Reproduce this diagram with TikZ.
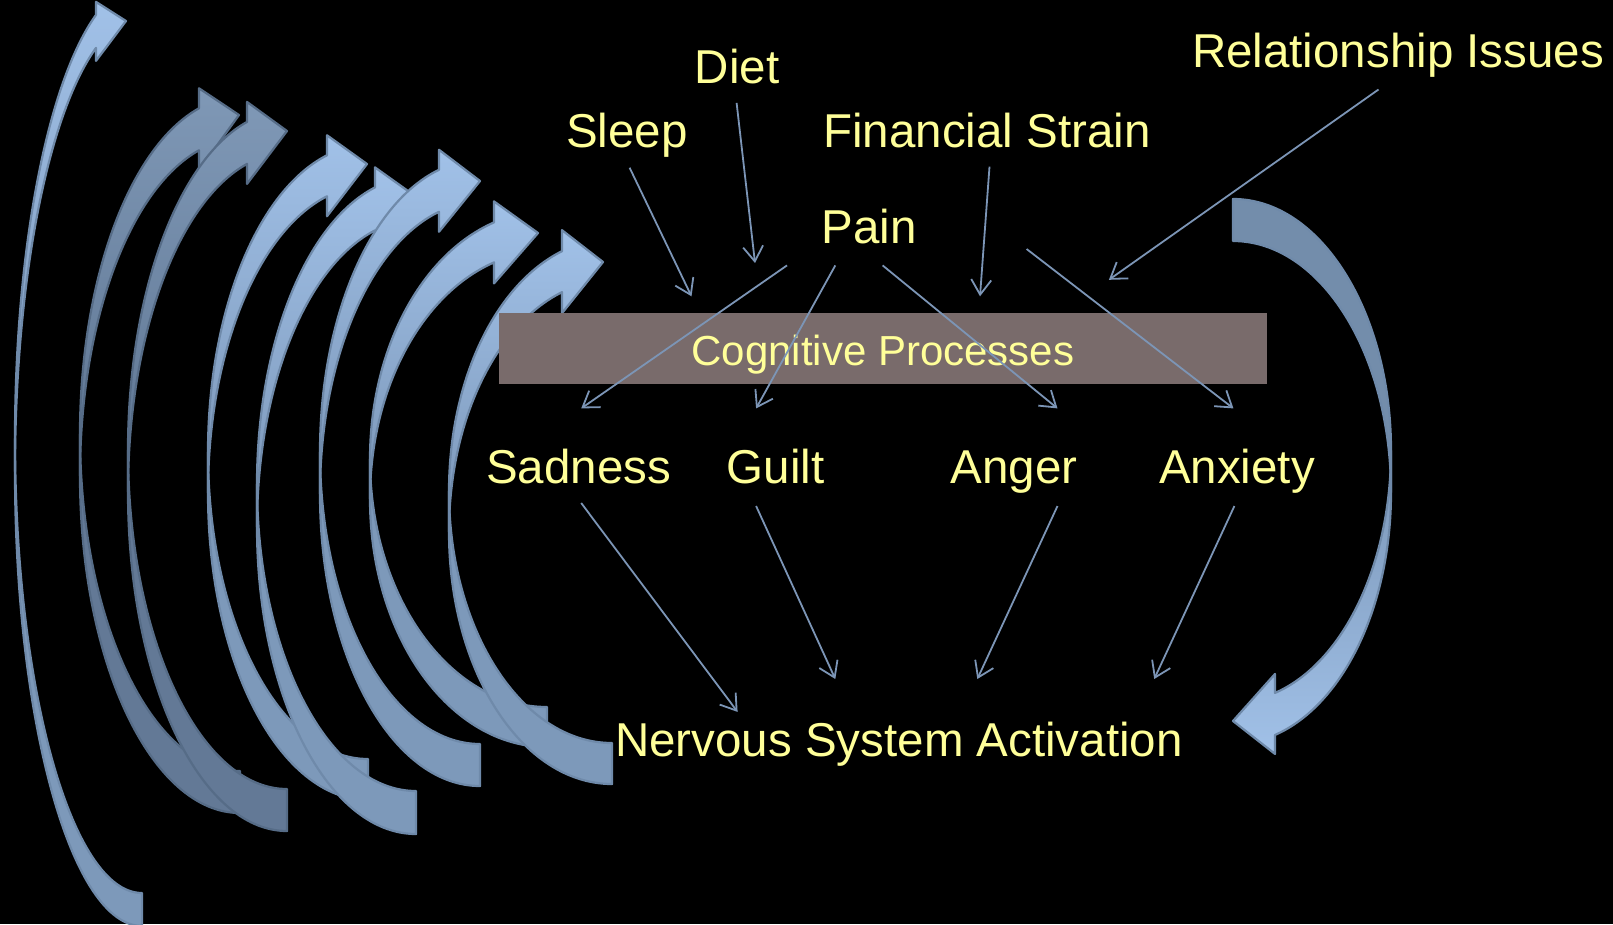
\documentclass[tikz,border=0pt]{standalone}
\usepackage{fontspec}
\setmainfont{Liberation Sans}
\usetikzlibrary{arrows.meta}

\definecolor{labeltext}{HTML}{FFFF99}
\definecolor{linkline}{HTML}{7C95B6}
\definecolor{procbox}{HTML}{796B6B}
\definecolor{lightTop}{HTML}{A1C1E8}
\definecolor{lightBottom}{HTML}{7A95B6}
\definecolor{lightBack}{HTML}{7D99BA}
\definecolor{lightEdge}{HTML}{6F8AAA}
\definecolor{darkTop}{HTML}{7F98B6}
\definecolor{darkBottom}{HTML}{5D7491}
\definecolor{darkBack}{HTML}{637996}
\definecolor{darkEdge}{HTML}{566C87}

\tikzset{
  lbl/.style={text=labeltext, font=\fontsize{47.5}{57}\selectfont, inner sep=0pt, anchor=base},
  boxlbl/.style={text=labeltext, font=\fontsize{42}{50}\selectfont, inner sep=0pt, anchor=base},
  link/.style={draw=linkline, line width=1.8pt, -{Straight Barb[length=15pt,width=20pt]}},
  lightfront/.style={top color=lightTop, bottom color=lightBottom, draw=lightEdge, line width=2.2pt, line join=round},
  lightback/.style={fill=lightBack, draw=lightEdge, line width=2.2pt, line join=round},
  darkfront/.style={top color=darkTop, bottom color=darkBottom, draw=darkEdge, line width=2.2pt, line join=round},
  darkback/.style={fill=darkBack, draw=darkEdge, line width=2.2pt, line join=round},
  rightfront/.style={top color=lightBottom, bottom color=lightTop, draw=lightEdge, line width=2.2pt, line join=round},
  rightback/.style={fill=lightBack!92!black, draw=lightEdge, line width=2.2pt, line join=round},
}

% Curved block arrow bending to the left: tail at the bottom, head at the top.
% #1 style prefix, #2 tail x, #3 centre y of upper ellipse, #4 x radius,
% #5 y radius, #6 band offset, #7 head base x, #8 barb overhang, #9 tip
\newcommand\curvedarrow[9]{%
  \pgfmathsetmacro\arwLx{#2-#4}%
  \pgfmathsetmacro\arwLy{#3+#6}%
  \pgfmathsetmacro\arwAng{360-acos((#7-#2)/#4)}%
  \pgfmathsetmacro\arwOut{#3+#5*sin(\arwAng)}%
  \pgfmathsetmacro\arwIn{\arwOut+#6}%
  \pgfmathsetmacro\arwTail{\arwLy+#5}%
  \path[#1back] (\arwLx,#3)
    arc[start angle=180, end angle=90, x radius=#4, y radius=#5]
    -- (#2,\arwTail)
    arc[start angle=90, end angle=180, x radius=#4, y radius=#5] -- cycle;
  \path[#1front] (\arwLx,\arwLy) -- (\arwLx,#3)
    arc[start angle=180, end angle=\arwAng, x radius=#4, y radius=#5]
    -- (#7,\arwOut-#8) -- (#9) -- (#7,\arwIn+#8) -- (#7,\arwIn)
    arc[start angle=\arwAng, end angle=180, x radius=#4, y radius=#5] -- cycle;
}

\begin{document}
\begin{tikzpicture}[x=1pt, y=-1pt]
\useasboundingbox (0,0) rectangle (1613,924);
\fill[black] (0,0) rectangle (1613,924);

% ring of curved arrows on the left
\curvedarrow{light}{142}{438.5}{127}{454.5}{33}{96}{13}{126,21}
\curvedarrow{dark}{240}{434}{160}{337}{42}{199}{20}{239,115}
\curvedarrow{dark}{287}{450}{159}{339}{42}{247}{20}{287,131}
\curvedarrow{light}{368}{452}{160}{307}{41}{327}{20}{367,164}
\curvedarrow{light}{416}{484}{159}{307}{43}{375}{20}{415,196}
\curvedarrow{light}{480}{452}{160}{292}{42}{439}{20}{480,181}
\curvedarrow{light}{547}{459}{177}{248}{40}{494}{21}{538,233}
\curvedarrow{light}{612}{491}{163}{252}{41}{562}{21}{603,262}

% returning arrow on the right: tail at the top, head at the bottom left
\pgfmathsetmacro\rAng{acos((1275-1233)/158)}
\pgfmathsetmacro\rIn{450.5+251.5*sin(\rAng)}
\pgfmathsetmacro\rOut{\rIn+42}
\path[rightback] (1233,199)
  arc[start angle=270, end angle=360, x radius=158, y radius=251.5]
  -- (1391,492.5)
  arc[start angle=360, end angle=270, x radius=158, y radius=251.5] -- cycle;
\path[rightfront] (1391,492.5) -- (1391,450.5)
  arc[start angle=0, end angle=\rAng, x radius=158, y radius=251.5]
  -- (1275,\rIn-19) -- (1233,721) -- (1275,\rOut+19) -- (1275,\rOut)
  arc[start angle=\rAng, end angle=0, x radius=158, y radius=251.5] -- cycle;

% central process bar
\node[fill=procbox, minimum width=768pt, minimum height=71pt, inner sep=0pt, anchor=north west] (proc) at (499,313) {};
\node[boxlbl] (cog) at (883,365) {Cognitive Processes};

% labels
\node[lbl] (diet) at (737,83) {Diet};
\node[lbl] (sleep) at (627,147) {Sleep};
\node[lbl] (fin) at (987,147.5) {Financial Strain};
\node[lbl] (rel) at (1398,67) {Relationship Issues};
\node[lbl] (pain) at (869,243) {Pain};
\node[lbl] (sad) at (578.6,483) {Sadness};
\node[lbl] (guilt) at (775.6,483) {Guilt};
\node[lbl] (anger) at (1014,483) {Anger};
\node[lbl] (anx) at (1237,483) {Anxiety};
\node[lbl] (nsa) at (899,756) {Nervous System Activation};

% connector end points
\coordinate (sleepA) at (629.6,167.7);   \coordinate (sleepB) at (691.5,296.3);
\coordinate (dietA) at (736.6,102.9);    \coordinate (dietB) at (755,263);
\coordinate (finA) at (989.5,166.6);     \coordinate (finB) at (980,296.3);
\coordinate (relA) at (1378.5,89.5);     \coordinate (relB) at (1108.9,279.8);
\coordinate (painA) at (787,265.4);      \coordinate (sadB) at (581.2,408.4);
\coordinate (painC) at (835.3,265.4);    \coordinate (guiltB) at (756.1,408.4);
\coordinate (painD) at (882.6,265.4);    \coordinate (angerB) at (1057.5,408.4);
\coordinate (painE) at (1026.6,249);     \coordinate (anxB) at (1233.4,408.4);
\coordinate (sadA) at (581.2,503);       \coordinate (nsaA) at (737.6,711.9);
\coordinate (guiltA) at (756.1,506);     \coordinate (nsaB) at (835.3,679);
\coordinate (angerA) at (1057.5,506);    \coordinate (nsaC) at (977.3,679);
\coordinate (anxA) at (1234.4,506);      \coordinate (nsaD) at (1154.2,679);

% connectors
\draw[link] (sleepA) -- (sleepB);
\draw[link] (dietA) -- (dietB);
\draw[link] (finA) -- (finB);
\draw[link] (relA) -- (relB);
\draw[link] (painA) -- (sadB);
\draw[link] (painC) -- (guiltB);
\draw[link] (painD) -- (angerB);
\draw[link] (painE) -- (anxB);
\draw[link] (sadA) -- (nsaA);
\draw[link] (guiltA) -- (nsaB);
\draw[link] (angerA) -- (nsaC);
\draw[link] (anxA) -- (nsaD);
\end{tikzpicture}
\end{document}
